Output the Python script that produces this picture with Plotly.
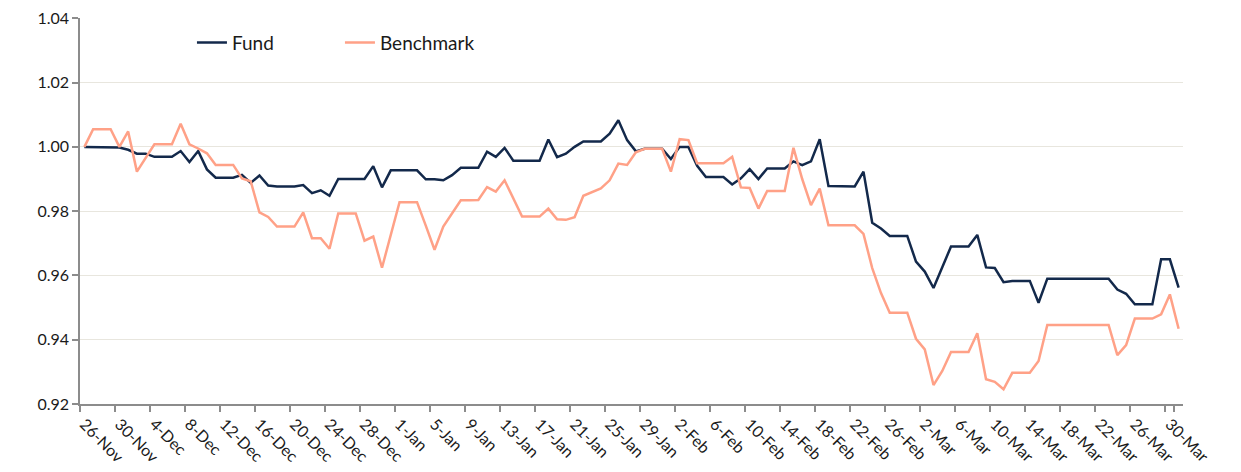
import pandas as pd
import plotly.graph_objects as go

# Daily categories (calendar days, 26-Nov to 31-Mar)
dates = pd.date_range("2022-11-26", "2023-03-31", freq="D")
categories = [f"{d.day}-{d.strftime('%b')}" for d in dates]

tick_labels = ["26-Nov", "30-Nov", "4-Dec", "8-Dec", "12-Dec", "16-Dec", "20-Dec", "24-Dec",
               "28-Dec", "1-Jan", "5-Jan", "9-Jan", "13-Jan", "17-Jan", "21-Jan", "25-Jan",
               "29-Jan", "2-Feb", "6-Feb", "10-Feb", "14-Feb", "18-Feb", "22-Feb", "26-Feb",
               "2-Mar", "6-Mar", "10-Mar", "14-Mar", "18-Mar", "22-Mar", "26-Mar", "30-Mar"]

fund = [
    1.0000, 1.0000, 1.0000, 1.0000, 0.9998, 0.9991, 0.9979, 0.9979, 0.9969, 0.9969,
    0.9969, 0.9987, 0.9953, 0.9987, 0.9930, 0.9904, 0.9904, 0.9904, 0.9913, 0.9888,
    0.9911, 0.9880, 0.9877, 0.9877, 0.9877, 0.9881, 0.9856, 0.9865, 0.9848, 0.9900,
    0.9900, 0.9900, 0.9900, 0.9940, 0.9874, 0.9927, 0.9927, 0.9927, 0.9927, 0.9899,
    0.9899, 0.9896, 0.9912, 0.9935, 0.9935, 0.9935, 0.9985, 0.9969, 0.9997, 0.9957,
    0.9957, 0.9957, 0.9957, 1.0023, 0.9968, 0.9979, 1.0000, 1.0017, 1.0017, 1.0017,
    1.0041, 1.0083, 1.0021, 0.9986, 0.9994, 0.9994, 0.9994, 0.9962, 1.0000, 1.0000,
    0.9941, 0.9906, 0.9906, 0.9906, 0.9883, 0.9902, 0.9931, 0.9900, 0.9933, 0.9933,
    0.9933, 0.9955, 0.9943, 0.9955, 1.0024, 0.9878, 0.9878, 0.9878, 0.9877, 0.9923,
    0.9764, 0.9746, 0.9723, 0.9723, 0.9723, 0.9643, 0.9612, 0.9561, 0.9626, 0.9690,
    0.9690, 0.9690, 0.9726, 0.9625, 0.9623, 0.9579, 0.9583, 0.9583, 0.9583, 0.9515,
    0.9590, 0.9590, 0.9590, 0.9590, 0.9590, 0.9590, 0.9590, 0.9590, 0.9556, 0.9543,
    0.9510, 0.9510, 0.9510, 0.9650, 0.9650, 0.9562,
]

benchmark = [
    1.0000, 1.0055, 1.0055, 1.0055, 1.0000, 1.0048, 0.9923, 0.9965, 1.0008, 1.0008,
    1.0008, 1.0072, 1.0008, 0.9995, 0.9980, 0.9944, 0.9944, 0.9944, 0.9902, 0.9893,
    0.9796, 0.9782, 0.9752, 0.9752, 0.9752, 0.9796, 0.9716, 0.9716, 0.9683, 0.9793,
    0.9793, 0.9793, 0.9708, 0.9721, 0.9624, 0.9726, 0.9828, 0.9828, 0.9828, 0.9755,
    0.9680, 0.9752, 0.9794, 0.9834, 0.9834, 0.9835, 0.9875, 0.9861, 0.9896, 0.9840,
    0.9783, 0.9783, 0.9783, 0.9808, 0.9775, 0.9773, 0.9781, 0.9848, 0.9860, 0.9871,
    0.9896, 0.9948, 0.9944, 0.9983, 0.9994, 0.9994, 0.9994, 0.9923, 1.0024, 1.0021,
    0.9949, 0.9949, 0.9949, 0.9949, 0.9969, 0.9874, 0.9872, 0.9808, 0.9863, 0.9863,
    0.9863, 0.9997, 0.9900, 0.9819, 0.9870, 0.9756, 0.9756, 0.9756, 0.9756, 0.9729,
    0.9623, 0.9545, 0.9484, 0.9484, 0.9484, 0.9403, 0.9370, 0.9259, 0.9303, 0.9362,
    0.9362, 0.9362, 0.9420, 0.9277, 0.9269, 0.9246, 0.9297, 0.9297, 0.9297, 0.9334,
    0.9446, 0.9446, 0.9446, 0.9446, 0.9446, 0.9446, 0.9446, 0.9446, 0.9352, 0.9383,
    0.9466, 0.9466, 0.9466, 0.9479, 0.9541, 0.9434,
]

y_ticks = [0.92, 0.94, 0.96, 0.98, 1.00, 1.02, 1.04]

FONT = "Lato, 'Open Sans', sans-serif"
fig = go.Figure()
fig.add_trace(go.Scatter(x=categories, y=fund, mode="lines", name="Fund",
                         line=dict(color="#13294B", width=2.5)))
fig.add_trace(go.Scatter(x=categories, y=benchmark, mode="lines", name="Benchmark",
                         line=dict(color="#FFA187", width=2.5)))

# page body has an 8px default margin, so the figure is sized to fit the window
fig.update_layout(
    width=1233, height=464,
    margin=dict(l=72, r=58, t=10, b=68),
    paper_bgcolor="white", plot_bgcolor="white",
    font=dict(family=FONT, color="#1a1a1a", size=15),
    showlegend=True,
    legend=dict(orientation="h", x=0.1015, xanchor="left", y=0.936, yanchor="middle",
                font=dict(size=19, family=FONT, color="#1a1a1a"),
                bgcolor="rgba(0,0,0,0)", entrywidth=103),
)
fig.update_xaxes(
    type="category", categoryorder="array", categoryarray=categories,
    tickmode="array", tickvals=tick_labels, ticktext=tick_labels,
    tickson="boundaries", tickangle=45, automargin=False,
    ticklabeloverflow="allow", ticklabelstandoff=3,
    ticks="outside", ticklen=6, tickcolor="#8c8c8c", tickwidth=1.5,
    showline=True, linecolor="#8c8c8c", linewidth=1.5,
    showgrid=False, range=[-0.5, len(categories) - 0.5],
    tickfont=dict(size=16, family=FONT, color="#1a1a1a"),
)
fig.update_yaxes(
    range=[0.92, 1.0401], tickvals=y_ticks, tickformat=".2f", automargin=False,
    ticklabeloverflow="allow",
    ticks="outside", ticklen=6, tickcolor="#8c8c8c", tickwidth=1.5,
    showline=True, linecolor="#8c8c8c", linewidth=1.5,
    showgrid=True, gridcolor="#E8E6DE", gridwidth=1, zeroline=False,
    tickfont=dict(size=16, family=FONT, color="#1a1a1a"),
)

fig.write_html("out.html")
